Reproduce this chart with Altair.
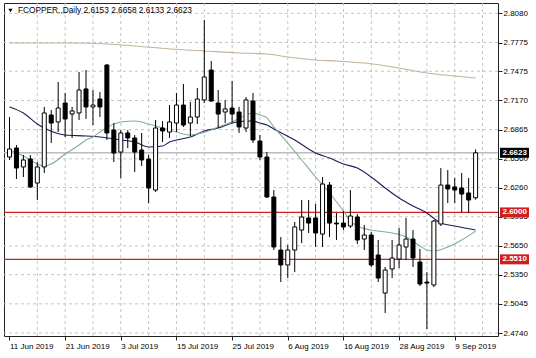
import altair as alt
import pandas as pd

# ---------------- data ----------------
dates = pd.bdate_range("2019-06-11", "2019-09-12")  # 68 daily bars

opens = [2.6579, 2.6673, 2.6475, 2.6558, 2.6307, 2.6475, 2.7018, 2.6945, 2.7143, 2.7028,
         2.7039, 2.7290, 2.7102, 2.7185, 2.7540, 2.6861, 2.6631, 2.6830, 2.6778, 2.6652,
         2.6558, 2.6234, 2.6882, 2.6840, 2.6934, 2.7122, 2.6934, 2.6997, 2.7175, 2.7488,
         2.7143, 2.7049, 2.7091, 2.7049, 2.6882, 2.7164, 2.6746, 2.6579, 2.6161, 2.5607,
         2.5451, 2.5607, 2.5816, 2.5942, 2.5942, 2.5774, 2.6286, 2.5889, 2.5889, 2.5858,
         2.5952, 2.5722, 2.5764, 2.5555, 2.5158, 2.5409, 2.5513, 2.5639, 2.5722, 2.5482,
         2.5273, 2.5242, 2.5879, 2.6286, 2.6266, 2.6255, 2.6203, 2.6153]
highs = [2.6997, 2.6704, 2.6600, 2.6600, 2.6527, 2.7102, 2.7070, 2.7363, 2.7248, 2.7102,
         2.7467, 2.7488, 2.7279, 2.7258, 2.7551, 2.6934, 2.6861, 2.6861, 2.6809, 2.6830,
         2.6600, 2.6966, 2.6955, 2.7122, 2.7248, 2.7342, 2.7154, 2.7300, 2.8011, 2.7582,
         2.7279, 2.7175, 2.7373, 2.7102, 2.7206, 2.7248, 2.6809, 2.6631, 2.6234, 2.5743,
         2.5660, 2.5900, 2.6130, 2.6130, 2.6088, 2.6370, 2.6318, 2.5994, 2.6015, 2.6234,
         2.5983, 2.5869, 2.5795, 2.5712, 2.5430, 2.5712, 2.5837, 2.5942, 2.5816, 2.5618,
         2.5377, 2.5921, 2.6464, 2.6443, 2.6360, 2.6412, 2.6360, 2.6658]
lows = [2.6548, 2.6349, 2.6370, 2.6255, 2.6130, 2.6412, 2.6725, 2.6840, 2.6788, 2.6778,
        2.6966, 2.6976, 2.6913, 2.6997, 2.6757, 2.6527, 2.6360, 2.6673, 2.6422, 2.6485,
        2.6098, 2.6213, 2.6736, 2.6778, 2.6840, 2.6893, 2.6799, 2.6924, 2.7143, 2.7154,
        2.6882, 2.6934, 2.6934, 2.6830, 2.6840, 2.6725, 2.6548, 2.6151, 2.5607, 2.5273,
        2.5315, 2.5377, 2.5680, 2.5785, 2.5639, 2.5639, 2.5743, 2.5712, 2.5816, 2.5837,
        2.5670, 2.5607, 2.5430, 2.5273, 2.4949, 2.5315, 2.5419, 2.5503, 2.5430, 2.5231,
        2.4782, 2.5221, 2.5858, 2.6098, 2.6098, 2.6004, 2.5994, 2.6133]
closes = [2.6663, 2.6464, 2.6548, 2.6266, 2.6475, 2.7039, 2.6934, 2.7091, 2.6976, 2.7060,
          2.7279, 2.7102, 2.7122, 2.7102, 2.6830, 2.6621, 2.6830, 2.6778, 2.6631, 2.6548,
          2.6255, 2.6882, 2.6851, 2.6945, 2.7122, 2.6913, 2.6997, 2.7185, 2.7415, 2.7164,
          2.7028, 2.7081, 2.7028, 2.6893, 2.7175, 2.6757, 2.6579, 2.6161, 2.5639, 2.5451,
          2.5607, 2.5848, 2.5952, 2.5889, 2.5785, 2.6297, 2.5889, 2.5880, 2.5848, 2.5963,
          2.5712, 2.5764, 2.5451, 2.5315, 2.5398, 2.5524, 2.5660, 2.5722, 2.5524, 2.5252,
          2.5262, 2.5910, 2.6286, 2.6245, 2.6234, 2.6192, 2.6130, 2.6623]

# moving averages (bar index, value)
ma_tan_idx = [0, 4, 9, 14, 18, 23, 28, 33, 37, 40, 44, 47, 51, 56, 60, 64, 67]
ma_tan = [2.7770, 2.7770, 2.7770, 2.7760, 2.7739, 2.7708, 2.7687, 2.7666, 2.7655, 2.7624,
          2.7593, 2.7582, 2.7561, 2.7509, 2.7457, 2.7426, 2.7405]
ma_navy_idx = [0, 2, 4, 5, 8, 11, 13, 16, 18, 20, 22, 23, 24, 26, 28, 30, 32, 34, 35, 36,
               37, 38, 41, 44, 46, 48, 50, 52, 54, 56, 58, 60, 62, 64, 67]
ma_navy = [2.7102, 2.7039, 2.6924, 2.6882, 2.6809, 2.6799, 2.6788, 2.6757, 2.6736, 2.6683,
           2.6694, 2.6736, 2.6757, 2.6788, 2.6851, 2.6882, 2.6934, 2.6955, 2.6955, 2.6934,
           2.6913, 2.6872, 2.6757, 2.6621, 2.6569, 2.6506, 2.6464, 2.6370, 2.6255, 2.6151,
           2.6067, 2.5994, 2.5889, 2.5858, 2.5816]
ma_green_idx = [0, 2, 4, 5, 6, 8, 10, 11, 12, 13, 15, 16, 18, 20, 23, 24, 26, 27, 29, 30,
                32, 35, 36, 37, 38, 40, 42, 44, 46, 48, 49, 50, 52, 55, 57, 59, 60, 61, 63,
                65, 67]
ma_green = [2.6652, 2.6589, 2.6506, 2.6485, 2.6506, 2.6610, 2.6704, 2.6757, 2.6788, 2.6840,
            2.6924, 2.6945, 2.6955, 2.6924, 2.6861, 2.6840, 2.6809, 2.6819, 2.6861, 2.6893,
            2.6945, 2.7039, 2.7018, 2.6987, 2.6893, 2.6725, 2.6548, 2.6370, 2.6203, 2.6015,
            2.5910, 2.5858, 2.5816, 2.5785, 2.5743, 2.5649, 2.5607, 2.5597, 2.5639, 2.5712,
            2.5805]

level_values = [2.6000, 2.5510]
bid_value = 2.6623
y_ticks = [2.8080, 2.7775, 2.7475, 2.7170, 2.6865, 2.6560, 2.6260, 2.5955,
           2.5650, 2.5350, 2.5045, 2.4740]
label_idx = list(range(0, 68, 8))
grid_idx = list(range(4, 69, 4))
header = "FCOPPER.,Daily  2.6153 2.6658 2.6133 2.6623"

# ---------------- build tables ----------------
n = len(opens)
candles = pd.DataFrame({"i": list(range(n)), "open": opens, "high": highs,
                        "low": lows, "close": closes})
candles["dir"] = ["up" if c >= o else "down" for o, c in zip(opens, closes)]

date_labels = [f"{dates[k].day} {dates[k].strftime('%b %Y')}" for k in label_idx]
label_expr = "[" + ",".join(f"'{s}'" for s in date_labels) + "][round(datum.value / 8)]"

FONT = "Liberation Sans"
FS = 8
RED = "#cf1f1f"

xs = alt.Scale(domain=[-0.07, 69.5], nice=False, zero=False)
ys = alt.Scale(domain=[2.4709, 2.8188], nice=False, zero=False)

x_axis = alt.Axis(values=label_idx, labelExpr=label_expr, grid=False, domain=False,
                  ticks=True, tickSize=4, tickColor="#222", labelAlign="left",
                  labelBaseline="top", labelPadding=2, labelFont=FONT, labelFontSize=FS,
                  labelColor="black", title=None, labelOverlap=False, labelFlush=False,
                  labelBound=False)
y_axis = alt.Axis(orient="right", values=y_ticks, format=".4f", grid=False, domain=False,
                  ticks=True, tickSize=4, tickColor="#222", labelPadding=1,
                  labelAlign="left", labelBaseline="middle", labelFont=FONT,
                  labelFontSize=FS, labelColor="black", title=None, labelOverlap=False,
                  labelFlush=False, labelBound=False)

def X(field):
    return alt.X(field, scale=xs, axis=x_axis)

def Y(field):
    return alt.Y(field, scale=ys, axis=y_axis)

# grid
vgrid = alt.Chart(pd.DataFrame({"i": grid_idx})).mark_rule(
    color="#c4c4c4", strokeDash=[3, 3], strokeWidth=1
).encode(x=X("i:Q"))

hgrid = alt.Chart(pd.DataFrame({"v": y_ticks})).mark_rule(
    color="#c4c4c4", strokeDash=[3, 3], strokeWidth=1
).encode(y=Y("v:Q"))

bid_line = alt.Chart(pd.DataFrame({"v": [bid_value]})).mark_rule(
    color="#bcbcbc", strokeWidth=1.5
).encode(y=Y("v:Q"))

levels = alt.Chart(pd.DataFrame({"v": level_values})).mark_rule(
    color=RED, strokeWidth=1.2
).encode(y=Y("v:Q"))

def ma_layer(idx, vals, color):
    return alt.Chart(pd.DataFrame({"i": idx, "v": vals})).mark_line(
        color=color, strokeWidth=1.1, interpolate="monotone"
    ).encode(x=X("i:Q"), y=Y("v:Q"))

tan = ma_layer(ma_tan_idx, ma_tan, "#c3b398")
navy = ma_layer(ma_navy_idx, ma_navy, "#1c1c5c")
green = ma_layer(ma_green_idx, ma_green, "#7fae98")

wicks = alt.Chart(candles).mark_rule(color="black", strokeWidth=1).encode(
    x=X("i:Q"),
    y=Y("low:Q"),
    y2="high:Q",
)
bodies = alt.Chart(candles).mark_bar(size=4, stroke="black", strokeWidth=1).encode(
    x=X("i:Q"),
    y=Y("open:Q"),
    y2="close:Q",
    fill=alt.Fill("dir:N", scale=alt.Scale(domain=["up", "down"], range=["white", "black"]),
                  legend=None),
)

# price tags on the right axis
tags_df = pd.DataFrame({"v": [bid_value] + level_values,
                        "c": ["black", RED, RED]})
tags_df["t"] = [f"{v:.4f}" for v in tags_df["v"]]
tag_boxes = alt.Chart(tags_df).mark_rule(strokeWidth=10, clip=False).encode(
    x=alt.value(496), x2=alt.value(525),
    y=Y("v:Q"),
    color=alt.Color("c:N", scale=None, legend=None),
)
tag_text = alt.Chart(tags_df).mark_text(
    align="left", baseline="middle", font=FONT, fontSize=FS, color="white",
    fontWeight="bold", clip=False
).encode(x=alt.value(498.5), y=Y("v:Q"), text="t:N")

head_df = pd.DataFrame({"t": [header]})
head_tri = alt.Chart(head_df).mark_point(
    shape="triangle-down", filled=True, color="black", size=18, opacity=1
).encode(x=alt.value(6.5), y=alt.value(7.5))
head_text = alt.Chart(head_df).mark_text(
    align="left", baseline="middle", font=FONT, fontSize=8.3, color="black"
).encode(x=alt.value(14), y=alt.value(8), text="t:N")

chart = alt.layer(
    vgrid, hgrid, bid_line, levels, tan, navy, green, wicks, bodies,
    tag_boxes, tag_text, head_tri, head_text
).properties(
    width=494, height=333,
    padding={"left": 4, "top": 3, "right": 38, "bottom": 22},
    autosize="none",
    background="white",
).configure_view(stroke="#222", strokeWidth=1)

chart.save("out.html", embed_options={"renderer": "svg", "actions": False})
